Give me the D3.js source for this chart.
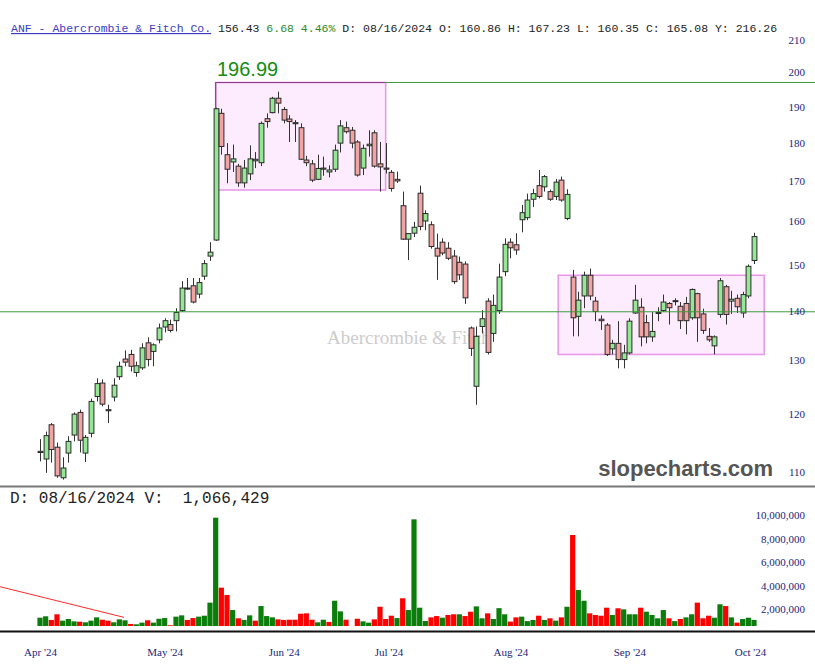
<!DOCTYPE html>
<html><head><meta charset="utf-8">
<script src="https://cdn.jsdelivr.net/npm/d3@7"></script>
<style>body{margin:0;background:#fff}svg{display:block}</style>
</head><body>
<svg id="c" width="815" height="672"></svg>
<script>
// ---------- data (daily candles, index 0 .. 126) ----------
const open  = [113.2,112.1,118.0,114.1,109.0,113.1,116.2,120.2,113.1,116.5,123.1,125.6,120.5,123.0,126.8,130.2,131.1,127.6,128.5,133.4,
               131.7,134.0,136.6,137.1,137.9,140.0,144.8,145.3,143.5,147.4,151.9,155.6,188.1,176.8,174.9,173.8,169.5,171.8,175.2,174.7,
               186.6,188.3,192.4,189.2,186.5,185.2,184.1,175.4,174.4,170.4,173.0,172.3,173.0,179.9,184.1,183.4,180.2,173.3,179.2,182.7,
               174.4,173.3,172.2,170.4,163.8,155.8,157.2,166.9,160.1,159.2,153.7,155.1,153.7,151.9,150.5,150.1,136.4,125.0,136.7,142.0,
               135.3,140.0,148.4,155.1,154.5,160.4,160.9,165.4,168.8,168.5,167.3,166.1,170.2,160.7,147.2,138.8,143.1,147.6,142.0,138.2,
               137.0,132.2,133.3,130.1,131.4,139.5,140.7,137.5,134.6,139.4,140.0,141.5,141.9,140.9,141.5,138.5,143.6,139.3,134.7,132.8,
               139.2,145.1,142.0,142.6,139.5,143.1,150.9];
const high  = [115.5,116.8,118.3,114.9,112.4,116.0,120.2,120.7,116.2,122.7,126.5,126.3,121.6,126.5,129.7,131.9,132.0,129.7,133.3,134.5,
               133.3,137.3,138.4,138.1,140.5,146.3,147.0,147.0,147.0,151.0,155.1,189.7,189.4,179.9,179.5,174.4,175.4,179.3,177.5,185.8,
               188.1,192.8,194.3,189.9,187.6,186.2,185.3,176.5,175.4,176.8,176.3,174.0,179.5,186.2,185.8,184.3,180.7,179.5,183.4,183.4,
               180.2,179.9,172.8,172.4,167.3,157.2,159.9,168.8,162.7,160.0,157.1,156.0,155.1,153.3,151.8,150.7,136.7,136.7,140.1,142.6,
               143.4,150.2,156.0,156.0,157.2,164.0,166.8,168.0,172.8,171.5,167.8,170.5,171.1,167.9,148.8,144.0,148.4,149.1,142.9,139.0,
               137.4,134.0,137.8,133.0,138.4,145.5,142.6,139.1,139.7,140.7,143.4,141.8,142.6,141.8,142.9,144.7,143.8,140.4,136.4,134.9,
               147.0,145.5,144.2,143.4,144.0,150.0,157.3];
const low   = [111.7,109.8,111.5,109.0,108.7,111.5,115.1,113.2,111.6,115.8,122.2,121.3,118.3,122.2,126.2,128.8,127.8,126.8,128.1,128.8,
               128.8,133.3,135.5,135.5,135.7,139.7,144.4,141.5,142.6,146.6,150.8,155.4,176.8,169.4,172.3,168.5,168.3,170.2,173.3,173.8,
               184.1,188.1,188.1,185.3,180.2,180.2,175.4,173.8,169.7,170.2,171.3,170.9,172.3,177.4,182.5,178.5,171.1,171.5,176.3,173.4,
               167.3,171.9,167.3,169.5,155.6,151.0,156.3,157.9,157.9,153.6,146.6,152.1,151.0,145.7,146.6,141.4,130.8,121.6,135.3,131.1,
               133.6,139.3,147.4,151.4,152.2,157.4,160.3,163.5,165.6,167.3,165.0,165.2,164.8,160.3,134.7,134.7,140.5,142.2,137.8,136.0,
               130.8,131.1,128.4,128.4,131.1,139.3,132.7,133.3,133.6,137.8,139.7,137.1,141.1,136.2,135.1,138.1,133.6,135.2,133.6,131.1,
               138.5,137.1,139.3,139.5,138.5,142.6,150.1];
const close = [113.4,116.1,113.7,109.3,110.6,115.1,119.9,115.3,115.8,122.2,125.5,121.7,120.7,125.2,128.8,129.6,128.8,128.9,132.4,130.1,
               133.0,136.4,137.9,135.9,139.6,144.8,144.6,141.8,146.0,150.2,152.8,189.4,179.0,173.0,175.7,169.5,173.3,175.7,175.6,185.3,
               185.8,192.4,191.0,186.2,185.8,185.5,175.6,174.7,170.2,173.2,173.3,172.8,178.0,184.6,183.0,179.9,171.5,178.5,179.6,173.8,
               173.6,173.0,168.1,170.0,155.8,157.1,158.6,158.8,161.9,154.1,151.9,152.6,151.4,146.2,147.7,142.7,132.3,134.7,138.3,131.5,
               141.1,147.2,154.6,153.8,153.3,162.1,165.2,166.8,166.1,171.1,165.4,169.7,165.2,166.6,138.5,142.2,147.6,143.1,139.8,137.9,
               131.1,133.3,130.1,131.4,137.8,142.2,134.6,134.6,135.7,139.6,141.8,140.6,142.1,137.9,137.9,144.5,138.5,135.9,134.0,134.6,
               146.4,139.2,142.4,140.8,143.4,149.6,156.4];
// shares traded (millions, scaled below)
const volume = [1.29,1.41,1.10,1.58,1.04,1.18,0.98,0.95,0.90,1.04,1.32,1.12,1.04,0.90,1.15,1.07,0.76,0.73,0.87,1.07,
                0.87,1.20,1.26,0.65,1.38,1.49,1.10,1.26,1.38,1.46,2.57,9.78,3.84,3.22,1.94,1.24,1.10,1.49,1.04,2.28,
                1.43,1.32,1.15,1.10,1.12,1.12,1.63,1.66,1.12,0.90,1.12,0.93,2.73,1.83,1.12,0.50,1.20,0.98,0.87,1.15,
                2.22,1.18,1.46,1.26,2.94,1.94,9.64,2.14,1.01,1.32,1.43,1.29,1.52,1.58,1.58,1.43,1.80,2.25,1.24,1.66,
                1.18,2.10,1.58,0.96,1.32,1.38,1.00,1.10,1.46,1.10,1.24,1.04,1.32,2.22,8.31,3.64,2.73,1.66,1.52,1.46,
                2.14,1.52,2.09,2.00,1.58,1.58,2.14,1.80,1.52,1.24,1.94,1.24,1.00,1.18,1.32,1.58,2.57,1.24,1.46,1.29,
                2.43,2.28,1.32,0.87,1.18,1.29,1.10].map(v => v * 1e6);

const priceTicks  = [110,120,130,140,150,160,170,180,190,200,210];
const volumeTicks = [2e6,4e6,6e6,8e6,10e6];
const monthLabels = ["Apr '24","May '24","Jun '24","Jul '24","Aug '24","Sep '24","Oct '24"];
const monthAt     = [0, 22, 43, 61.5, 83, 104, 125.3];   // bar index where each label sits

const highLevel = 196.99, supportLevel = 139.75;
const box1 = {from: 31, to: 61, top: 196.99, bottom: 167.7};
const box2 = {from: 91.45, to: 127.8, top: 147.6, bottom: 131.1};
const volTrend = [{i: -7.06, v: 3.92e6}, {i: 14.82, v: 1.32e6}];

const header = [
  {t: "ANF - Abercrombie & Fitch Co.", c: "#3b3bc4", u: true},
  {t: " 156.43", c: "#222"},
  {t: " 6.68 4.46%", c: "#2a8a2a"},
  {t: " D: 08/16/2024 O: 160.86 H: 167.23 L: 160.35 C: 165.08 Y: 216.26", c: "#222"}
];
const volInfo = "D: 08/16/2024 V:  1,066,429";
const watermark = "Abercrombie & Fitch";

// ---------- layout ----------
const W = 815, H = 672;
const svg = d3.select("#c");
const N = close.length;
const x = d3.scaleLinear().domain([0, N - 1]).range([40, 754]);
const y = d3.scaleLog().domain([107.5, 213.1]).range([487, 30]);
const yv = d3.scaleLinear().domain([0, 10e6]).range([632.9, 515.1]);
const AX = "#1c1c7c";

svg.append("rect").attr("width", W).attr("height", H).attr("fill", "#fff");

const defs = svg.append("defs");
defs.append("clipPath").attr("id", "pclip").append("rect").attr("x", 0).attr("y", 36).attr("width", W).attr("height", 449);
defs.append("clipPath").attr("id", "vclip").append("rect").attr("x", 0).attr("y", 488).attr("width", W).attr("height", 138);

// ---------- price panel ----------
const pp = svg.append("g").attr("clip-path", "url(#pclip)");

[box1, box2].forEach(b => {
  pp.append("rect")
    .attr("x", x(b.from)).attr("y", y(b.top))
    .attr("width", x(b.to) - x(b.from)).attr("height", y(b.bottom) - y(b.top))
    .attr("fill", "#fdecfd").attr("stroke", "#e79ae7").attr("stroke-width", 1.6);
});
pp.append("path")
  .attr("d", `M${x(box1.from)},${y(box1.bottom)}V${y(box1.top)}H${x(box1.to)}`)
  .attr("fill", "none").attr("stroke", "#8d3f8d").attr("stroke-width", 1.2);

pp.append("text").attr("x", 327).attr("y", 344)
  .attr("font-family", "Liberation Serif, Times New Roman, serif").attr("font-size", 19)
  .attr("fill", "#cdcdcd").text(watermark);

const cg = pp.append("g");
const idx = d3.range(N);
cg.selectAll("line.w").data(idx).join("line")
  .attr("x1", i => Math.round(x(i)) + 0.5).attr("x2", i => Math.round(x(i)) + 0.5)
  .attr("y1", i => y(high[i])).attr("y2", i => y(low[i]))
  .attr("stroke", "#333").attr("stroke-width", 1);
cg.selectAll("rect.b").data(idx).join("rect")
  .attr("x", i => Math.round(x(i)) + 0.5 - 2.4)
  .attr("width", 4.8)
  .attr("y", i => y(Math.max(open[i], close[i])))
  .attr("height", i => Math.max(1, Math.abs(y(open[i]) - y(close[i]))))
  .attr("fill", i => close[i] >= open[i] ? "#94e894" : "#f2a3a3")
  .attr("stroke", "#2a2a2a").attr("stroke-width", 1);

pp.append("line").attr("x1", 0).attr("x2", W).attr("y1", y(supportLevel)).attr("y2", y(supportLevel))
  .attr("stroke", "#3c9a3c").attr("stroke-width", 1);
svg.append("line").attr("x1", x(box1.to)).attr("x2", W).attr("y1", y(highLevel)).attr("y2", y(highLevel))
  .attr("stroke", "#3c9a3c").attr("stroke-width", 1);

svg.append("text").attr("x", 217).attr("y", 76)
  .attr("font-family", "Liberation Sans, Arial, sans-serif").attr("font-size", 20)
  .attr("fill", "#128c12").text(highLevel.toFixed(2));

svg.append("text").attr("x", 773).attr("y", 476).attr("text-anchor", "end")
  .attr("font-family", "Liberation Sans, Arial, sans-serif").attr("font-weight", "bold").attr("font-size", 22)
  .attr("fill", "#555").text("slopecharts.com");

const ht = svg.append("text").attr("x", 11).attr("y", 32)
  .attr("font-family", "Liberation Mono, Courier New, monospace").attr("font-size", 11.5);
header.forEach(h => {
  ht.append("tspan").attr("fill", h.c).attr("text-decoration", h.u ? "underline" : null)
    .style("white-space", "pre").text(h.t);
});

const pAxis = svg.append("g").attr("transform", "translate(805,0)")
  .call(d3.axisRight(y).tickValues(priceTicks).tickFormat(d3.format("d")).tickSize(0).tickPadding(0));
pAxis.select(".domain").remove();
pAxis.selectAll("text").attr("text-anchor", "end").attr("font-family", "Liberation Serif, Times New Roman, serif")
  .attr("font-size", 11).attr("fill", AX);

// ---------- volume panel ----------
svg.append("line").attr("x1", 0).attr("x2", W).attr("y1", 486.5).attr("y2", 486.5).attr("stroke", "#777").attr("stroke-width", 2);
svg.append("text").attr("x", 10).attr("y", 503)
  .attr("font-family", "Liberation Mono, Courier New, monospace").attr("font-size", 16)
  .attr("fill", "#222").style("white-space", "pre").text(volInfo);

const vp = svg.append("g").attr("clip-path", "url(#vclip)");
vp.selectAll("rect.v").data(idx).join("rect")
  .attr("x", i => x(i) - 2.6).attr("width", 5.2)
  .attr("y", i => yv(volume[i])).attr("height", i => yv(0) - yv(volume[i]))
  .attr("fill", i => (i === 0 || close[i] >= close[i - 1]) ? "#0b7d0b" : "#ff0000");
vp.append("line")
  .attr("x1", x(volTrend[0].i)).attr("y1", yv(volTrend[0].v))
  .attr("x2", x(volTrend[1].i)).attr("y2", yv(volTrend[1].v))
  .attr("stroke", "#ff2a2a").attr("stroke-width", 1);

const vAxis = svg.append("g").attr("transform", "translate(805,0)")
  .call(d3.axisRight(yv).tickValues(volumeTicks).tickFormat(d3.format(",")).tickSize(0).tickPadding(0));
vAxis.select(".domain").remove();
vAxis.selectAll("text").attr("text-anchor", "end").attr("font-family", "Liberation Serif, Times New Roman, serif")
  .attr("font-size", 11).attr("fill", AX);

svg.append("line").attr("x1", 0).attr("x2", W).attr("y1", 631.5).attr("y2", 631.5).attr("stroke", "#111").attr("stroke-width", 2);

const tAxis = svg.append("g").attr("transform", "translate(0,648)")
  .call(d3.axisBottom(x).tickValues(monthAt).tickFormat((d, k) => monthLabels[k]).tickSize(0).tickPadding(0));
tAxis.select(".domain").remove();
tAxis.selectAll("text").attr("font-family", "Liberation Serif, Times New Roman, serif")
  .attr("font-size", 11).attr("fill", AX);
</script>
</body></html>
